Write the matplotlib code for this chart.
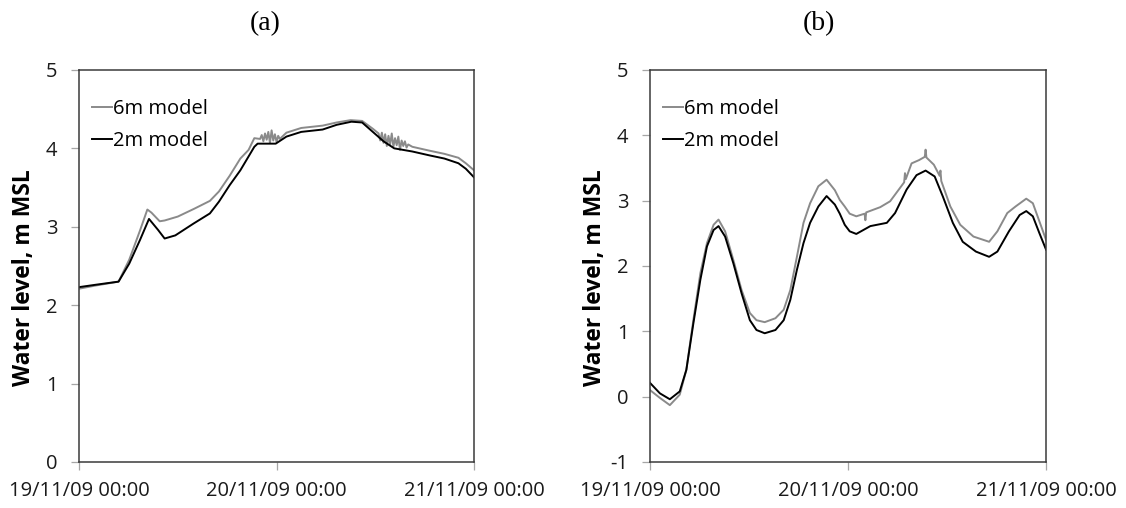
import matplotlib.pyplot as plt
import numpy as np

# hours since 19/11/09 00:00
# panel (a)
a_fine_hours = [0, 2.0, 4.8, 6.1, 7.4, 8.5, 9.6, 10.4, 11.7, 13.9, 15.9, 17.0, 18.3, 19.6,
                21.3, 21.7, 23.9, 25.2, 27.0, 29.6, 31.3, 33.1, 34.4, 35.7, 37.0,
                38.3, 40.5, 42.6, 44.4, 46.1, 47.0, 48.0]
a_fine_level = [2.23, 2.26, 2.30, 2.53, 2.83, 3.10, 2.96, 2.85, 2.89, 3.04, 3.17, 3.32, 3.53, 3.72,
                4.02, 4.06, 4.06, 4.15, 4.21, 4.24, 4.30, 4.34, 4.33, 4.21, 4.09,
                4.00, 3.96, 3.91, 3.87, 3.81, 3.74, 3.63]

a_coarse_hours = [0, 2.0, 4.8, 6.1, 7.4, 8.3, 8.8, 9.8, 10.4, 12.0, 14.0, 15.9, 17.0, 18.3, 19.6,
                  20.6, 21.3, 22.0, 22.2, 22.4, 22.6, 22.8, 23.0, 23.2, 23.4, 23.6, 23.8, 24.0,
                  24.2, 24.4, 25.2, 27.0, 29.6, 31.3, 33.0, 34.4, 35.7, 36.4, 36.6, 36.8, 37.0,
                  37.2, 37.4, 37.6, 37.8, 38.0, 38.2, 38.4, 38.6, 38.8, 39.0, 39.2, 39.4, 39.6,
                  39.8, 40.0, 40.5, 42.6, 44.4, 46.1, 47.0, 48.0]
a_coarse_level = [2.21, 2.25, 2.30, 2.58, 2.95, 3.22, 3.18, 3.07, 3.08, 3.13, 3.23, 3.33, 3.45, 3.65, 3.87,
                  3.98, 4.13, 4.12, 4.17, 4.09, 4.19, 4.11, 4.21, 4.07, 4.23, 4.10, 4.18, 4.08,
                  4.16, 4.12, 4.20, 4.26, 4.29, 4.33, 4.36, 4.35, 4.25, 4.19, 4.10, 4.20, 4.07,
                  4.18, 4.03, 4.16, 4.05, 4.19, 4.02, 4.13, 4.04, 4.15, 3.98, 4.10, 4.03, 4.09,
                  4.01, 4.05, 4.02, 3.97, 3.93, 3.88, 3.81, 3.72]

# panel (b)
b_fine_hours = [0, 1.2, 2.4, 3.6, 4.4, 5.25, 6.1, 6.9, 7.7, 8.3, 9.1, 10.1, 11.1, 12.1, 12.9,
                13.9, 15.2, 16.2, 17.0, 17.8, 18.6, 19.4, 20.4, 21.4, 22.4, 23.0, 23.6, 24.2,
                25.0, 26.7, 28.7, 29.7, 31.1, 32.3, 33.4, 34.5, 35.5, 36.7, 37.9, 39.5, 41.1,
                42.1, 43.5, 44.8, 45.6, 46.4, 47.2, 48.0]
b_fine_level = [0.21, 0.05, -0.04, 0.08, 0.41, 1.12, 1.79, 2.30, 2.55, 2.61, 2.45, 2.04, 1.58,
                1.17, 1.02, 0.97, 1.02, 1.17, 1.48, 1.94, 2.35, 2.66, 2.91, 3.07, 2.94, 2.80,
                2.63, 2.53, 2.49, 2.61, 2.66, 2.81, 3.17, 3.39, 3.46, 3.37, 3.06, 2.66, 2.37,
                2.22, 2.14, 2.22, 2.53, 2.78, 2.84, 2.76, 2.50, 2.25]

b_coarse_hours = [0, 1.2, 2.4, 3.6, 4.4, 5.25, 6.1, 6.9, 7.7, 8.3, 9.1, 10.1, 11.1, 12.1, 12.9,
                  13.9, 15.2, 16.2, 17.0, 17.8, 18.6, 19.4, 20.4, 21.4, 22.4, 23.0, 23.6, 24.2,
                  25.0, 26.0, 26.1, 26.2, 27.9, 29.1, 30.8, 30.9, 31.0, 31.7, 32.6, 33.3, 33.4,
                  33.5, 34.4, 35.1, 35.2, 35.3, 36.4, 37.6, 39.2, 41.1, 42.1, 43.3, 44.3, 45.6,
                  46.4, 48.0]
b_coarse_level = [0.10, -0.02, -0.13, 0.03, 0.41, 1.17, 1.89, 2.35, 2.63, 2.71, 2.53, 2.09, 1.63,
                  1.28, 1.17, 1.14, 1.20, 1.33, 1.63, 2.14, 2.66, 2.96, 3.22, 3.32, 3.16, 3.01,
                  2.91, 2.80, 2.76, 2.80, 2.70, 2.82, 2.90, 2.99, 3.28, 3.42, 3.33, 3.57, 3.62,
                  3.67, 3.78, 3.66, 3.55, 3.38, 3.46, 3.30, 2.91, 2.63, 2.45, 2.37, 2.53, 2.81,
                  2.91, 3.03, 2.96, 2.40]

tick_hours = [0, 24, 48]
tick_labels = ['19/11/09 00:00', '20/11/09 00:00', '21/11/09 00:00']

font = 'Open Sans'
grey = '#8a8a8a'


def draw(ax, fine_x, fine_y, coarse_x, coarse_y, ylim, yticks):
    ax.plot(coarse_x, coarse_y, color=grey, lw=1.4, label='6m model')
    ax.plot(fine_x, fine_y, color='black', lw=1.4, label='2m model')
    ax.set_xlim(0, 48)
    ax.set_ylim(*ylim)
    ax.set_xticks(tick_hours)
    ax.set_xticklabels(tick_labels, family=font, fontsize=14.5, color='#1a1a1a')
    ax.set_yticks(yticks)
    ax.set_yticklabels([str(t) for t in yticks], family=font, fontsize=14.5, color='#1a1a1a')
    ax.tick_params(direction='out', length=5.5, width=0.9, color='#a6a6a6')
    ax.tick_params(axis='x', pad=8)
    ax.tick_params(axis='y', pad=10)
    for s in ax.spines.values():
        s.set_linewidth(1.1)
        s.set_color('#3a3a3a')
    ax.legend(loc='upper left', bbox_to_anchor=(0.033, 0.925), frameon=False,
              handlelength=1.0, handletextpad=0.05, borderaxespad=0, borderpad=0,
              prop={'family': font, 'size': 14.5}, labelspacing=0.6)


fig = plt.figure(figsize=(11.26, 5.08), dpi=100)
ax1 = fig.add_axes([0.0702, 0.0906, 0.3508, 0.7717])
ax2 = fig.add_axes([0.5773, 0.0906, 0.3517, 0.7717])

draw(ax1, a_fine_hours, a_fine_level, a_coarse_hours, a_coarse_level, (0, 5), [0, 1, 2, 3, 4, 5])
draw(ax2, b_fine_hours, b_fine_level, b_coarse_hours, b_coarse_level, (-1, 5), [-1, 0, 1, 2, 3, 4, 5])

for x, t in [(0.2353, '(a)'), (0.7274, '(b)')]:
    fig.text(x, 0.9528, t, family='Liberation Serif', fontsize=20, ha='center', va='center')
for x in [0.0209, 0.528]:
    fig.text(x, 0.4528, 'Water level, m MSL', family=font, fontsize=16.5, fontweight='bold',
             rotation=90, ha='center', va='center')

fig.savefig('out.png', dpi=100)
